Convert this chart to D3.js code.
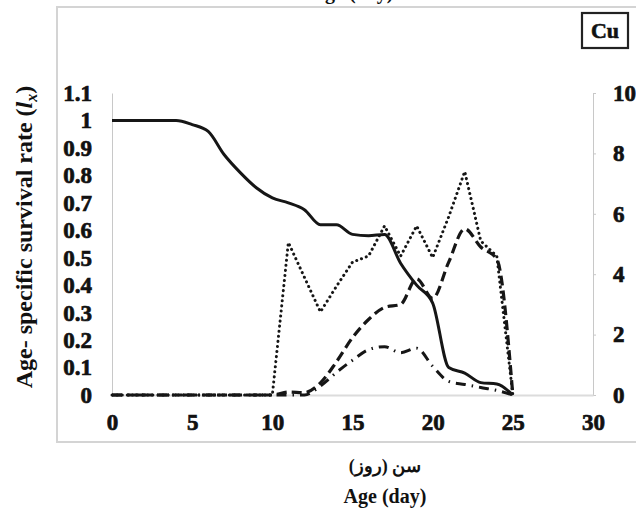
<!DOCTYPE html>
<html>
<head>
<meta charset="utf-8">
<script src="https://cdn.jsdelivr.net/npm/d3@7"></script>
<style>
  html, body { margin: 0; padding: 0; background: #fff; }
  svg { display: block; }
  text { font-family: "Liberation Serif", "DejaVu Serif", serif; font-weight: bold; fill: #111; }
</style>
</head>
<body>
<div id="container"></div>
<script>
const width = 636, height = 512;

// --- Data --------------------------------------------------------------------
const days = [0, 1, 2, 3, 4, 5, 6, 7, 8, 9, 10, 11, 12, 13, 14, 15, 16, 17, 18, 19, 20, 21, 22, 23, 24, 25];
// survival lx (left axis)
const lx = [1, 1, 1, 1, 1, 0.985, 0.96, 0.875, 0.81, 0.755, 0.718, 0.70, 0.675, 0.62, 0.62, 0.585, 0.58, 0.585, 0.48, 0.40, 0.335, 0.10, 0.08, 0.045, 0.04, 0];
// right-axis series
const dotted = [0, 0, 0, 0, 0, 0, 0, 0, 0, 0, 0, 5.05, 3.9, 2.75, 3.6, 4.4, 4.6, 5.6, 4.6, 5.6, 4.55, 5.9, 7.4, 5.1, 4.6, 0];
const dashed = [0, 0, 0, 0, 0, 0, 0, 0, 0, 0, 0, 0.1, 0.08, 0.4, 1.1, 1.9, 2.5, 2.9, 3.0, 3.85, 3.2, 4.4, 5.5, 4.9, 4.5, 0];
const dashDot = [0, 0, 0, 0, 0, 0, 0, 0, 0, 0, 0, 0, 0, 0.3, 0.75, 1.15, 1.5, 1.6, 1.4, 1.55, 0.95, 0.45, 0.35, 0.25, 0.15, 0];

const xTicks = [0, 5, 10, 15, 20, 25, 30];
const yLeftTicks = [0, 0.1, 0.2, 0.3, 0.4, 0.5, 0.6, 0.7, 0.8, 0.9, 1, 1.1];
const yRightTicks = [0, 2, 4, 6, 8, 10];

// --- Scales -------------------------------------------------------------------
const x = d3.scaleLinear().domain([0, 30]).range([112, 593]);
const yL = d3.scaleLinear().domain([0, 1.1]).range([395, 93]);
const yR = d3.scaleLinear().domain([0, 10]).range([395, 93]);

const svg = d3.select("#container").append("svg").attr("width", width).attr("height", height);

// caption at the very top, mostly cropped away in the original figure
svg.append("text")
  .attr("x", 352).attr("y", -1)
  .attr("text-anchor", "middle")
  .style("font-size", "20px")
  .text("Age (day)");

// chart frame
svg.append("rect")
  .attr("x", 57).attr("y", 7)
  .attr("width", 600).attr("height", 435)
  .attr("fill", "none")
  .attr("stroke", "#d4d4d4")
  .attr("stroke-width", 2);

// --- Axes ---------------------------------------------------------------------
const gray = "#c8c8c8";
const styleTicks = (sel) => sel.selectAll("text")
  .style("font-size", "23px")
  .attr("fill", "#111")
  .attr("stroke", "#111")
  .attr("stroke-width", 0.7)
  .attr("font-family", null);

const axL = svg.append("g").attr("transform", "translate(112,0)")
  .call(d3.axisLeft(yL).tickValues(yLeftTicks).tickSize(0).tickPadding(20).tickFormat(d3.format("~g")));
axL.select(".domain").attr("stroke", gray).attr("stroke-width", 1);
styleTicks(axL);

const axR = svg.append("g").attr("transform", "translate(593,0)")
  .call(d3.axisRight(yR).tickValues(yRightTicks).tickSize(3).tickPadding(17).tickFormat(d3.format("d")));
axR.select(".domain").attr("stroke", gray).attr("stroke-width", 1);
axR.selectAll("line").attr("stroke", gray);
styleTicks(axR);

const axB = svg.append("g").attr("transform", "translate(0,395)")
  .call(d3.axisBottom(x).tickValues(xTicks).tickSize(0).tickPadding(19).tickFormat(d3.format("d")));
axB.select(".domain").attr("stroke", "#dcdcdc").attr("stroke-width", 2);
styleTicks(axB);

// --- Lines ----------------------------------------------------------------------
const ink = "#161616";
const lineL = d3.line().x((d, i) => x(days[i])).y((d) => yL(d)).curve(d3.curveMonotoneX);
const lineR = d3.line().x((d, i) => x(days[i])).y((d) => yR(d)).curve(d3.curveMonotoneX);
const lineRlin = d3.line().x((d, i) => x(days[i])).y((d) => yR(d));

svg.append("path").datum(dashDot).attr("d", lineR)
  .attr("fill", "none").attr("stroke", ink).attr("stroke-width", 3)
  .attr("stroke-dasharray", "10,6,1.5,6");

svg.append("path").datum(dotted).attr("d", lineRlin)
  .attr("fill", "none").attr("stroke", ink).attr("stroke-width", 3)
  .attr("stroke-linecap", "round")
  .attr("stroke-dasharray", "0.1,5");

svg.append("path").datum(dashed).attr("d", lineR)
  .attr("fill", "none").attr("stroke", ink).attr("stroke-width", 3.2)
  .attr("stroke-dasharray", "10,5");

svg.append("path").datum(lx).attr("d", lineL)
  .attr("fill", "none").attr("stroke", ink).attr("stroke-width", 3);

// --- Cu badge -----------------------------------------------------------------
svg.append("rect")
  .attr("x", 582).attr("y", 13)
  .attr("width", 46).attr("height", 35)
  .attr("fill", "#fff").attr("stroke", "#222").attr("stroke-width", 2.2);
svg.append("text")
  .attr("x", 605).attr("y", 38)
  .attr("text-anchor", "middle")
  .attr("stroke", "#111").attr("stroke-width", 0.6)
  .style("font-size", "22px")
  .text("Cu");

// --- Axis titles --------------------------------------------------------------
const yTitle = svg.append("text")
  .attr("transform", "translate(32,237) rotate(-90)")
  .attr("text-anchor", "middle")
  .style("font-size", "24px");
yTitle.append("tspan").text("Age- specific survival rate (");
yTitle.append("tspan").style("font-style", "italic").text("l");
yTitle.append("tspan").style("font-style", "italic").style("font-size", "16px").attr("dy", 5).text("x");
yTitle.append("tspan").attr("dy", -5).text(")");

svg.append("text")
  .attr("x", 385).attr("y", 472)
  .attr("text-anchor", "middle")
  .style("font-size", "18px")
  .attr("font-family", "'DejaVu Sans', sans-serif")
  .text("سن (روز)");

svg.append("text")
  .attr("x", 385).attr("y", 503)
  .attr("text-anchor", "middle")
  .style("font-size", "20px")
  .text("Age (day)");
</script>
</body>
</html>
